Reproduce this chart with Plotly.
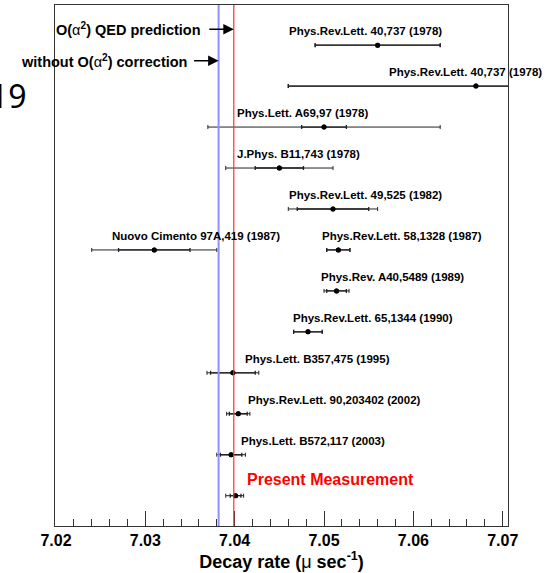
import plotly.graph_objects as go

# ---- data ----
labels = [
    "Phys.Rev.Lett. 40,737 (1978)",
    "Phys.Rev.Lett. 40,737 (1978)",
    "Phys.Lett. A69,97 (1978)",
    "J.Phys. B11,743 (1978)",
    "Phys.Rev.Lett. 49,525 (1982)",
    "Nuovo Cimento 97A,419 (1987)",
    "Phys.Rev.Lett. 58,1328 (1987)",
    "Phys.Rev. A40,5489 (1989)",
    "Phys.Rev.Lett. 65,1344 (1990)",
    "Phys.Lett. B357,475 (1995)",
    "Phys.Rev.Lett. 90,203402 (2002)",
    "Phys.Lett. B572,117 (2003)",
    "Present Measurement",
]
rows = [12, 11, 10, 9, 8, 7, 7, 6, 5, 4, 3, 2, 1]
values = [7.056, 7.067, 7.050, 7.045, 7.051, 7.031, 7.0516, 7.0514, 7.0482,
          7.0398, 7.0404, 7.0396, 7.0401]
total_plus = [0.007, 0.021, 0.013, 0.006, 0.005, 0.007, 0.0013, 0.0014, 0.0016,
              0.0029, 0.0013, 0.0016, 0.0009]
total_minus = [0.007, 0.021, 0.013, 0.006, 0.005, 0.007, 0.0013, 0.0014, 0.0016,
               0.0029, 0.0013, 0.0016, 0.0011]
stat_err = [0.007, 0.021, 0.0025, 0.0027, 0.004, 0.004, 0.0013, 0.0011, 0.0016,
            0.0025, 0.0010, 0.0012, 0.0006]
qed_prediction = 7.0399
without_correction = 7.0382
x_ticks = [7.02, 7.03, 7.04, 7.05, 7.06, 7.07]

# label anchor positions (left edge of label, in axis units)
label_x = [7.0458, 7.0570, 7.0400, 7.0400, 7.0459, 7.0260, 7.0496, 7.0494,
           7.0463, 7.0409, 7.0413, 7.0405, 7.0412]

FONT = "Liberation Sans"

fig = go.Figure()

# outer (total) error bars
fig.add_trace(go.Scatter(
    x=values, y=rows, mode="markers",
    marker=dict(color="black", size=5),
    error_x=dict(type="data", symmetric=False, array=total_plus,
                 arrayminus=total_minus, color="#222222", thickness=1, width=2),
    showlegend=False, hoverinfo="skip",
))
# inner (statistical) error bars
fig.add_trace(go.Scatter(
    x=values, y=rows, mode="markers",
    marker=dict(color="black", size=5),
    error_x=dict(type="data", array=stat_err, color="#222222",
                 thickness=1.3, width=2),
    showlegend=False, hoverinfo="skip",
))

# theory lines
fig.add_shape(type="line", xref="x", yref="paper", x0=without_correction,
              x1=without_correction, y0=0, y1=1,
              line=dict(color="#8f8fff", width=2))
fig.add_shape(type="line", xref="x", yref="paper", x0=qed_prediction,
              x1=qed_prediction, y0=0, y1=1,
              line=dict(color="#ff3030", width=1.2))

annotations = []
for i, lab in enumerate(labels):
    present = (i == len(labels) - 1)
    annotations.append(dict(
        x=label_x[i], y=rows[i], xref="x", yref="y", text=lab,
        showarrow=False, xanchor="left", yanchor="middle",
        yshift=16 if present else 14,
        font=dict(family=FONT, size=16 if present else 11.5,
                  color="red" if present else "black", weight="bold"),
    ))

# arrows to theory lines
for xv, yp, txt, xs in [
    (qed_prediction, 0.9534, "O(<span style='font-weight:normal'>α</span><sup>2</sup>) QED prediction", -31),
    (without_correction, 0.8931, "without O(<span style='font-weight:normal'>α</span><sup>2</sup>) correction", -30),
]:
    annotations.append(dict(
        x=xv, y=yp, xref="x", yref="paper", text="", showarrow=True,
        ax=-26, ay=0, axref="pixel", ayref="pixel",
        arrowhead=2, arrowsize=1.4, arrowwidth=1.5, arrowcolor="black",
    ))
    annotations.append(dict(
        x=xv, y=yp, xref="x", yref="paper", text=txt, showarrow=False,
        xanchor="right", yanchor="middle", xshift=xs,
        font=dict(family=FONT, size=14.5, color="black", weight="bold"),
    ))

# stray slide page number
annotations.append(dict(
    x=-0.0574, y=0.827, xref="paper", yref="paper", text="19",
    showarrow=False, xanchor="right", yanchor="middle",
    font=dict(family="Noto Sans", size=32, color="black"),
))

fig.update_layout(
    width=547, height=573,
    margin=dict(l=55, r=39, t=5, b=47),
    paper_bgcolor="white", plot_bgcolor="white",
    annotations=annotations,
    xaxis=dict(
        range=[7.01989, 7.07059],
        tickvals=x_ticks, ticktext=[f"{v:.2f}" for v in x_ticks],
        ticks="inside", ticklen=15, tickwidth=1, tickcolor="#333333",
        minor=dict(dtick=0.002, tick0=7.02, ticks="inside", ticklen=7,
                   tickwidth=1, tickcolor="#333333", showgrid=False),
        showgrid=False, zeroline=False,
        showline=True, linecolor="#333333", linewidth=1, mirror=True,
        tickfont=dict(family=FONT, size=16, color="black", weight="bold"),
        title=dict(text="Decay rate (<span style='font-weight:normal'>μ</span> sec<sup>-1</sup>)",
                   font=dict(family=FONT, size=18, color="black", weight="bold"),
                   standoff=6),
    ),
    yaxis=dict(
        range=[0.26, 12.98], showticklabels=False, ticks="",
        showgrid=False, zeroline=False,
        showline=True, linecolor="#333333", linewidth=1, mirror=True,
    ),
)

fig.write_html("out.html")
